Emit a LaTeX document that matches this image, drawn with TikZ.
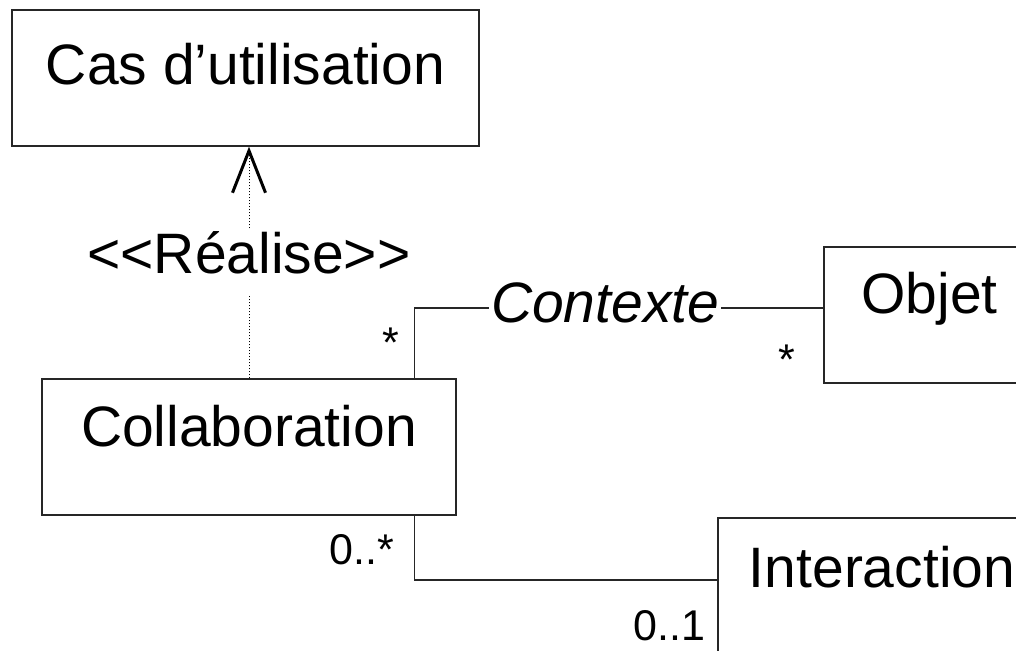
\documentclass[tikz,border=0pt]{standalone}
\usepackage{fontspec}
\setmainfont{Liberation Sans}
\usetikzlibrary{arrows.meta}

\tikzset{
  classe/.style={draw=black!85, line width=1.3pt, rectangle, inner sep=0pt, minimum height=136pt, font=\fontsize{57}{60}\selectfont},
  assoc/.style={draw=black!85, line width=1.3pt},
  mult/.style={anchor=base, inner sep=0pt, font=\fontsize{43}{45}\selectfont},
  realise/.style={dotted, line width=1pt, -{Straight Barb[length=42pt,width=33pt,line width=3pt]}},
}

\begin{document}
\begin{tikzpicture}[x=1pt,y=1pt]
\path[use as bounding box, clip] (0,0) rectangle (1016,650);
\node[classe, minimum width=467pt, text height=75pt, text depth=61pt] (cas) at (245.5,572) {Cas d’utilisation};
\node[classe, minimum width=414pt, text height=68pt, text depth=68pt] (collab) at (249,203) {Collaboration};
\node[classe, minimum width=211pt, text height=67pt, text depth=69pt] (objet) at (929.5,335) {Objet};
\node[classe, minimum width=328pt, text height=69pt, text depth=67pt] (inter) at (882,64) {Interaction};
\draw[realise] (collab.north) -- (collab.north |- cas.south)
  node[midway, fill=white, inner xsep=2pt, inner ysep=0pt, text height=44pt, text depth=22pt, font=\fontsize{57}{60}\selectfont] (real) {<\kern0pt<Réalise>\kern0pt>};
\draw[assoc] ([xshift=-42pt]collab.north east) |- node[pos=0.733, fill=white, inner xsep=2pt, inner ysep=0pt, text height=45pt, text depth=15pt, font=\fontsize{57}{60}\selectfont\itshape] (ctx) {Contexte} ([yshift=7pt]objet.west);
\draw[assoc] ([xshift=-42pt]collab.south east) |- ([yshift=6pt]inter.west);
\node[mult] (m1) at (391,292) {*};
\node[mult] (m2) at (787,275) {*};
\node[mult] (m3) at (362,85) {0..*};
\node[mult] (m4) at (669.5,10) {0..1};
\end{tikzpicture}
\end{document}
